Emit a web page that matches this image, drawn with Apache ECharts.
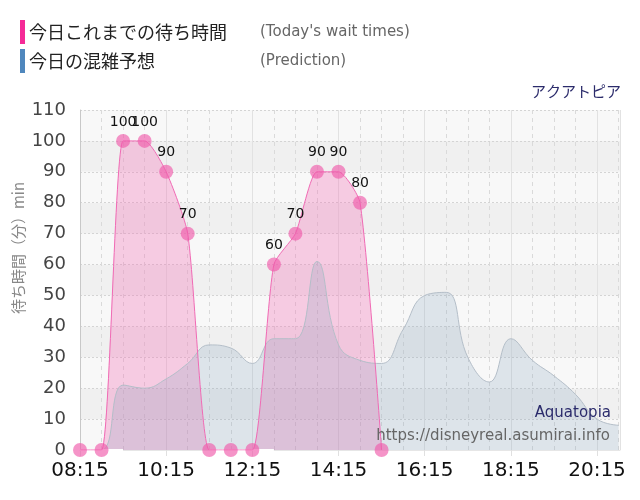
<!DOCTYPE html>
<html>
<head>
<meta charset="utf-8">
<script src="https://cdn.jsdelivr.net/npm/echarts@6/dist/echarts.min.js"></script>
<style>html,body{margin:0;padding:0;background:#fff}#c{width:640px;height:500px}</style>
</head>
<body>
<div id="c"></div>
<script>
// ---- data ----
const startTime = "08:15";
const tickLabels = ["08:15","10:15","12:15","14:15","16:15","18:15","20:15"];
const actualTimes = ["08:15","08:45","09:15","09:45","10:15","10:45","11:15","11:45","12:15","12:45","13:15","13:45","14:15","14:45","15:15"];
const actualValues = [0,0,100,100,90,70,0,0,0,60,70,90,90,80,0];
const predTimes = ["08:15","08:45","09:15","09:45","10:15","10:45","11:15","11:45","12:15","12:45","13:15","13:45","14:15","14:45","15:15","15:45","16:15","16:45","17:15","17:45","18:15","18:45","19:15","19:45","20:15","20:45"];
const predValues = [0,0,21,20,23,28,34,33,28,36,36,61,34,29,28,39,50,51,30,22,36,29,24,18,10,8];
const closedSegments = [["08:15","09:15"],["11:15","12:45"]];
const legendMain = ["今日これまでの待ち時間","今日の混雑予想"];
const legendSub = ["(Today's wait times)","(Prediction)"];
const titleJa = "アクアトピア";
const titleEn = "Aquatopia";
const sourceUrl = "https://disneyreal.asumirai.info";
const yName = "待ち時間（分）min";

function toMin(t){const [h,m]=t.split(":").map(Number);return h*60+m;}
const base = toMin(startTime);
function off(t){return toMin(t)-base;}
function fmt(v){const m=base+v;const h=Math.floor(m/60),mm=m%60;return String(h).padStart(2,"0")+":"+String(mm).padStart(2,"0");}

const actualData = actualTimes.map((t,i)=>[off(t),actualValues[i]]);
const predData = predTimes.map((t,i)=>[off(t),predValues[i]]);
const closedData = [];
closedSegments.forEach((s,i)=>{ if(i>0) closedData.push([off(s[0]),null]); closedData.push([off(s[0]),0],[off(s[1]),0]); });

const chart = echarts.init(document.getElementById('c'), null, {renderer:'canvas'});
const cjk = "'Noto Sans CJK JP', sans-serif";
const lat = "'DejaVu Sans', Verdana, sans-serif";

chart.setOption({
  animation:false,
  backgroundColor:'#fff',
  grid:{left:80,right:20,top:110,bottom:50,containLabel:false},
  xAxis:{
    type:'value', min:0, max:752, interval:120,
    axisLine:{show:true,lineStyle:{color:'#e6e6e6'}},
    axisTick:{show:true,length:6,lineStyle:{color:'#e0e0e0'}},
    axisLabel:{fontSize:20,color:'#111',fontFamily:lat,margin:11,formatter:v=>fmt(v),showMaxLabel:false},
    splitLine:{show:true,lineStyle:{color:'#e2e2e2',width:1}},
    minorTick:{show:false,splitNumber:4},
    minorSplitLine:{show:true,lineStyle:{color:'#dadada',type:[4,4],width:1}}
  },
  yAxis:{
    type:'value', min:0, max:110, interval:10,
    axisLine:{show:true,lineStyle:{color:'#c8c8c8'}},
    axisTick:{show:false},
    axisLabel:{fontSize:18,color:'#444',fontFamily:lat,margin:14},
    splitLine:{show:true,lineStyle:{color:'#d4d4d4',type:[2,2]}},
    splitArea:{show:true,areaStyle:{color:['#f8f8f8','#f0f0f0']}}
  },
  series:[
    {
      type:'line', data:actualData, smooth:0.2, z:2,
      symbol:'none', lineStyle:{width:0},
      areaStyle:{color:'rgba(242,110,180,0.46)'},
      silent:true
    },
    {
      type:'line', data:predData, smooth:0.45, z:3,
      symbol:'none',
      lineStyle:{color:'#b4bec8',width:1},
      areaStyle:{color:'rgba(125,158,185,0.3)'},
      silent:true
    },
    {
      type:'line', data:closedData, z:4, connectNulls:false,
      symbol:'none', lineStyle:{color:'#ffffff',width:2}, silent:true
    },
    {
      type:'line', data:actualData, smooth:0.2, z:5,
      symbol:'circle', symbolSize:14,
      itemStyle:{color:'rgba(240,90,170,0.65)'},
      lineStyle:{color:'#f06ab4',width:1},
      label:{show:true,position:'top',distance:5,fontSize:14,color:'#111',fontFamily:lat,
        formatter:p=>p.value[1]===0?'':String(p.value[1])},
      silent:true
    }
  ],
  graphic:[
    {type:'rect',shape:{x:20,y:20,width:5,height:24},style:{fill:'#f52a97'}},
    {type:'rect',shape:{x:20,y:49,width:5,height:24},style:{fill:'#4f87bd'}},
    {type:'text',x:29,y:32,style:{text:legendMain[0],font:"18px "+cjk,fill:'#222',textVerticalAlign:'middle'}},
    {type:'text',x:29,y:61,style:{text:legendMain[1],font:"18px "+cjk,fill:'#222',textVerticalAlign:'middle'}},
    {type:'text',x:260,y:32,style:{text:legendSub[0],font:"15px "+lat,fill:'#666',textVerticalAlign:'middle'}},
    {type:'text',x:260,y:61,style:{text:legendSub[1],font:"15px "+lat,fill:'#666',textVerticalAlign:'middle'}},
    {type:'text',x:621,y:91,style:{text:titleJa,font:"15px "+cjk,fill:'#2b2b6b',textAlign:'right',textVerticalAlign:'middle'}},
    {type:'text',x:611,y:413,z:10,style:{text:titleEn,font:"15px "+lat,fill:'#2b2b6b',textAlign:'right',textVerticalAlign:'middle'}},
    {type:'text',x:610,y:436,z:10,style:{text:sourceUrl,font:"15px "+lat,fill:'#666',textAlign:'right',textVerticalAlign:'middle'}},
    {type:'text',x:18,y:248,rotation:Math.PI/2,style:{text:yName,font:"15px "+cjk,fill:'#888',textAlign:'center',textVerticalAlign:'middle'}}
  ]
});
</script>
</body>
</html>
